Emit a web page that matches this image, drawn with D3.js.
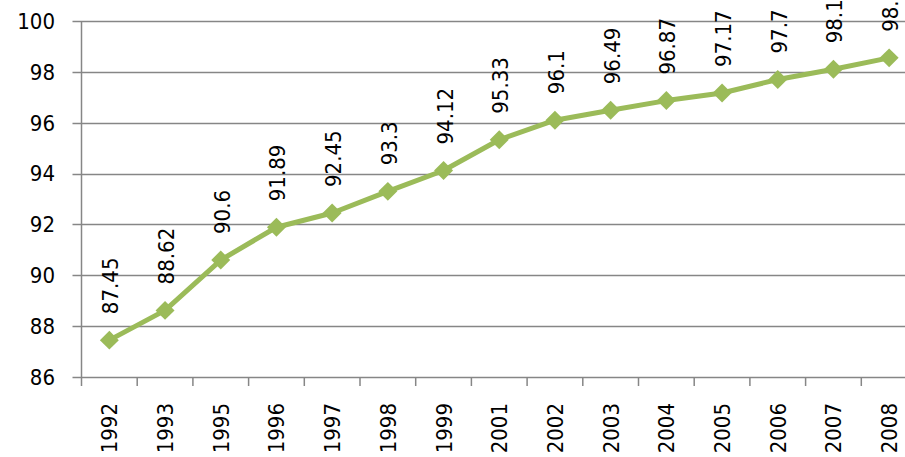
<!DOCTYPE html>
<html>
<head>
<meta charset="utf-8">
<script src="https://cdn.jsdelivr.net/npm/d3@7"></script>
<style>
  html, body { margin: 0; padding: 0; background: #fff; overflow: hidden; }
  svg { display: block; }
  text { font-family: "DejaVu Sans Condensed", "Liberation Sans", Arial, sans-serif; }
</style>
</head>
<body>
<svg id="chart" width="905" height="457"></svg>
<script>
// chart data
const years = ['1992', '1993', '1995', '1996', '1997', '1998', '1999', '2001',
               '2002', '2003', '2004', '2005', '2006', '2007', '2008'];
const values = [87.45, 88.62, 90.6, 91.89, 92.45, 93.3, 94.12, 95.33,
                96.1, 96.49, 96.87, 97.17, 97.7, 98.1, 98.55];
const yTicks = [86, 88, 90, 92, 94, 96, 98, 100];

const svg = d3.select('#chart');
const gridColor = '#868686';
const lineColor = '#9BBB59';

// plot area runs past the right edge of the window, like the original
const plotLeft = 81.5, plotTop = 21, plotBottom = 377;
const bandW = 55.7;

const x = d3.scaleBand()
    .domain(years)
    .range([plotLeft, plotLeft + bandW * years.length]);

const y = d3.scaleLinear()
    .domain([86, 100])
    .range([plotBottom, plotTop]);

// horizontal gridlines + y ticks
svg.append('g')
    .selectAll('line')
    .data(yTicks)
    .join('line')
    .attr('x1', plotLeft - 9)
    .attr('x2', 905)
    .attr('y1', d => Math.round(y(d)) + 0.5)
    .attr('y2', d => Math.round(y(d)) + 0.5)
    .attr('stroke', gridColor)
    .attr('stroke-width', 1.5);

// y axis line
svg.append('line')
    .attr('x1', plotLeft).attr('x2', plotLeft)
    .attr('y1', plotTop).attr('y2', plotBottom)
    .attr('stroke', gridColor)
    .attr('stroke-width', 1.5);

// y tick labels
svg.append('g')
    .selectAll('text')
    .data(yTicks)
    .join('text')
    .attr('x', 55)
    .attr('y', d => y(d))
    .attr('dy', '0.36em')
    .attr('text-anchor', 'end')
    .attr('font-size', '22px')
    .attr('fill', '#000')
    .text(d => d);

// x tick marks at band boundaries
const boundaries = years.map(d => x(d)).concat([x(years[years.length - 1]) + x.bandwidth()]);
svg.append('g')
    .selectAll('line')
    .data(boundaries)
    .join('line')
    .attr('x1', d => d).attr('x2', d => d)
    .attr('y1', plotBottom).attr('y2', plotBottom + 9)
    .attr('stroke', gridColor)
    .attr('stroke-width', 1.5);

// x tick labels, rotated
svg.append('g')
    .selectAll('text')
    .data(years)
    .join('text')
    .attr('transform', d => `translate(${x(d) + x.bandwidth() / 2 + 8},403) rotate(-90)`)
    .attr('text-anchor', 'end')
    .attr('font-size', '22px')
    .attr('fill', '#000')
    .text(d => d);

// the line
const pts = years.map((yr, i) => [x(yr) + x.bandwidth() / 2, y(values[i])]);

svg.append('path')
    .datum(pts)
    .attr('d', d3.line())
    .attr('fill', 'none')
    .attr('stroke', lineColor)
    .attr('stroke-width', 5)
    .attr('stroke-linejoin', 'round');

// diamond markers
svg.append('g')
    .selectAll('path')
    .data(pts)
    .join('path')
    .attr('transform', d => `translate(${d[0]},${d[1]}) rotate(45)`)
    .attr('d', d3.symbol(d3.symbolSquare, 180))
    .attr('fill', lineColor);

// value labels, rotated (the last one runs off the top, as in the original)
svg.append('g')
    .selectAll('text')
    .data(values)
    .join('text')
    .attr('transform', (d, i) => `translate(${pts[i][0] + 9},${pts[i][1] - 26}) rotate(-90)`)
    .attr('text-anchor', 'start')
    .attr('font-size', '22px')
    .attr('fill', '#000')
    .text(d => d);
</script>
</body>
</html>
